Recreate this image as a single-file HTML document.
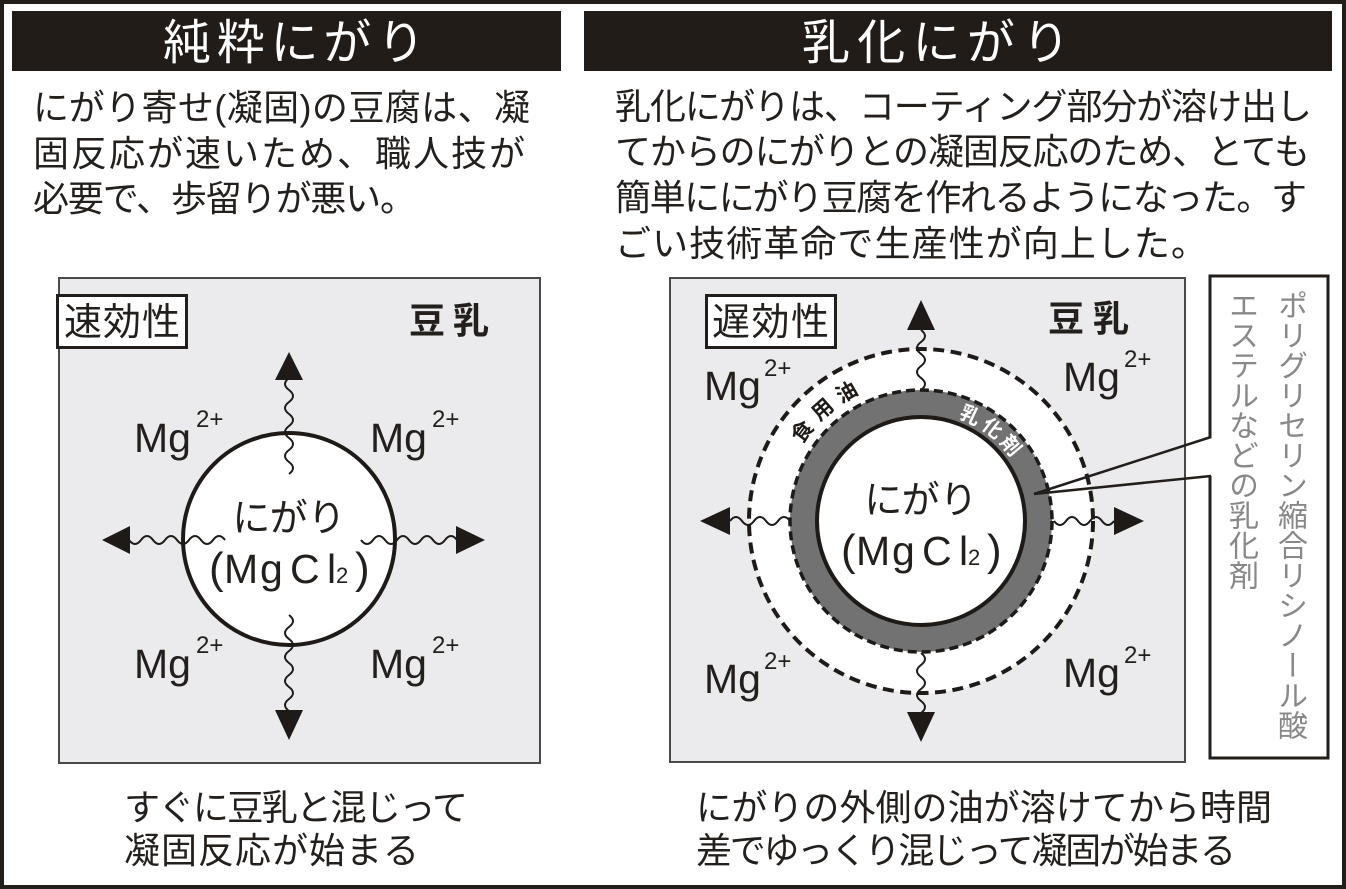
<!DOCTYPE html>
<html><head><meta charset="utf-8">
<style>
html,body{margin:0;padding:0;background:#fff;}
body{width:1346px;height:889px;overflow:hidden;position:relative;}
svg{position:absolute;left:0;top:0;}
.jp{font-family:"Liberation Sans","Noto Sans CJK JP",sans-serif;}
.vt{position:absolute;left:1219px;top:290px;width:98px;height:465px;writing-mode:vertical-rl;
font-family:"Noto Sans CJK JP",sans-serif;font-size:30px;letter-spacing:0px;line-height:49px;color:#888888;white-space:nowrap;}
</style></head>
<body>
<svg width="1346" height="889" viewBox="0 0 1346 889" xmlns="http://www.w3.org/2000/svg">
<rect x="2" y="2" width="1342" height="885" fill="#fff" stroke="#221e1b" stroke-width="4"/>
<!-- headers -->
<rect x="12" y="11" width="549" height="60" fill="#221c18"/>
<rect x="584" y="11" width="748" height="60" fill="#221c18"/>
<g class="jp" fill="#fff" font-size="48">
<text x="163" y="59" textLength="262" lengthAdjust="spacing">純粋にがり</text>
<text x="802" y="59" textLength="268" lengthAdjust="spacing">乳化にがり</text>
</g>
<!-- paragraphs -->
<g class="jp" fill="#231f1c" font-size="36">
<text x="33" y="120" textLength="497" lengthAdjust="spacing">にがり寄せ(凝固)の豆腐は、凝</text>
<text x="33" y="166" textLength="492" lengthAdjust="spacing">固反応が速いため、職人技が</text>
<text x="33" y="211" textLength="383" lengthAdjust="spacing">必要で、歩留りが悪い。</text>
<text x="615" y="119" textLength="697" lengthAdjust="spacing">乳化にがりは、コーティング部分が溶け出し</text>
<text x="615" y="164" textLength="695" lengthAdjust="spacing">てからのにがりとの凝固反応のため、とても</text>
<text x="615" y="210" textLength="692" lengthAdjust="spacing">簡単ににがり豆腐を作れるようになった。す</text>
<text x="615" y="256" textLength="592" lengthAdjust="spacing">ごい技術革命で生産性が向上した。</text>
<text x="124" y="820" textLength="344" lengthAdjust="spacing">すぐに豆乳と混じって</text>
<text x="124" y="863" textLength="295" lengthAdjust="spacing">凝固反応が始まる</text>
<text x="696" y="820" textLength="576" lengthAdjust="spacing">にがりの外側の油が溶けてから時間</text>
<text x="696" y="863" textLength="540" lengthAdjust="spacing">差でゆっくり混じって凝固が始まる</text>
</g>

<!-- LEFT DIAGRAM -->
<rect x="59" y="278" width="481" height="485" fill="#ebebed" stroke="#4a4a4a" stroke-width="2"/>
<rect x="57.5" y="295.5" width="129" height="52" fill="#fff" stroke="#221e1b" stroke-width="3"/>
<g class="jp" fill="#231f1c">
<text x="64" y="335" font-size="38" textLength="116" lengthAdjust="spacing">速効性</text>
<text x="409" y="333" font-size="36" font-weight="bold" textLength="80" lengthAdjust="spacing">豆乳</text>
</g>
<circle cx="289" cy="539" r="106" fill="#fff" stroke="#1e1a17" stroke-width="4"/>
<g fill="none" stroke="#1e1a17" stroke-width="2">
<path d="M289 474 q8 -6 0 -12 t0 -12 t0 -12 t0 -12 t0 -12 t0 -12 t0 -12 t0 -12"/>
<path d="M289 615 q8 6 0 12 t0 12 t0 12 t0 12 t0 12 t0 12 t0 12 t0 12"/>
<path d="M225 540 q-6 -8 -12 0 t-12 0 t-12 0 t-12 0 t-12 0 t-12 0 t-12 0 t-12 0"/>
<path d="M361 540 q6 8 12 0 t12 0 t12 0 t12 0 t12 0 t12 0 t12 0 t12 0"/>
</g>
<g fill="#1e1a17">
<polygon points="289,352 275,380 303,380"/>
<polygon points="289,740 275,710 303,710"/>
<polygon points="102,540 130,526 130,554"/>
<polygon points="485,540 456,526 456,554"/>
</g>
<g class="jp" fill="#231f1c">
<text x="289" y="531" font-size="38" text-anchor="middle">にがり</text>
<text y="583" font-size="41"><tspan x="209" font-size="44">(</tspan><tspan x="224">M</tspan><tspan x="260">g</tspan><tspan x="290">C</tspan><tspan x="327">l</tspan><tspan x="336" font-size="22">2</tspan><tspan x="355" font-size="44">)</tspan></text>
</g>
<g font-family="Liberation Sans, sans-serif" fill="#231f1c">
<text x="134" y="452" font-size="41">Mg</text><text x="196" y="427" font-size="24">2+</text>
<text x="370" y="452" font-size="41">Mg</text><text x="432" y="427" font-size="24">2+</text>
<text x="134" y="678" font-size="41">Mg</text><text x="196" y="653" font-size="24">2+</text>
<text x="370" y="678" font-size="41">Mg</text><text x="432" y="653" font-size="24">2+</text>
</g>

<!-- RIGHT DIAGRAM -->
<rect x="670" y="278" width="515" height="484" fill="#ebebed" stroke="#4a4a4a" stroke-width="2"/>
<rect x="706.5" y="295.5" width="129" height="52" fill="#fff" stroke="#221e1b" stroke-width="3"/>
<g class="jp" fill="#231f1c">
<text x="712" y="335" font-size="38" textLength="117" lengthAdjust="spacing">遅効性</text>
<text x="1048" y="331" font-size="36" font-weight="bold" textLength="81" lengthAdjust="spacing">豆乳</text>
</g>
<circle cx="921" cy="521" r="172" fill="#fff"/>
<circle cx="921" cy="521" r="172" fill="none" stroke="#1e1a17" stroke-width="4" stroke-dasharray="11 6.5"/>
<circle cx="921" cy="521" r="117.5" fill="none" stroke="#727272" stroke-width="27"/>
<circle cx="921" cy="521" r="131" fill="none" stroke="#1e1a17" stroke-width="3.5" stroke-dasharray="9 5"/>
<circle cx="921" cy="521" r="104" fill="#fff" stroke="#1e1a17" stroke-width="4"/>
<g fill="none" stroke="#1e1a17" stroke-width="2">
<path d="M921 390 q8 -6 0 -12 t0 -12 t0 -12 t0 -12 t0 -12"/>
<path d="M921 653 q8 6 0 12 t0 12 t0 12 t0 12 t0 12"/>
<path d="M790 521 q-6 -8 -12 0 t-12 0 t-12 0 t-12 0 t-12 0"/>
<path d="M1054 521 q6 8 12 0 t12 0 t12 0 t12 0 t12 0"/>
</g>
<g fill="#1e1a17">
<polygon points="921,300 907,330 935,330"/>
<polygon points="921,742 907,712 935,712"/>
<polygon points="700,521 730,507 730,535"/>
<polygon points="1144,521 1114,507 1114,535"/>
</g>
<g class="jp" font-weight="bold" font-size="21" text-anchor="middle" dominant-baseline="central" fill="#1e1a17">
<text transform="translate(803,432) rotate(-53)">食</text>
<text transform="translate(823,410) rotate(-41.5)">用</text>
<text transform="translate(847,393) rotate(-30)">油</text>
</g>
<g class="jp" font-weight="bold" font-size="20" text-anchor="middle" dominant-baseline="central" fill="#fff">
<text transform="translate(970,416) rotate(25)">乳</text>
<text transform="translate(992,429) rotate(37.5)">化</text>
<text transform="translate(1010,446) rotate(50)">剤</text>
</g>
<g class="jp" fill="#231f1c">
<text x="921" y="513" font-size="38" text-anchor="middle">にがり</text>
<text y="565" font-size="41"><tspan x="841" font-size="44">(</tspan><tspan x="856">M</tspan><tspan x="892">g</tspan><tspan x="922">C</tspan><tspan x="959">l</tspan><tspan x="968" font-size="22">2</tspan><tspan x="987" font-size="44">)</tspan></text>
</g>
<g font-family="Liberation Sans, sans-serif" fill="#231f1c">
<text x="704" y="400" font-size="41">Mg</text><text x="764" y="376" font-size="24">2+</text>
<text x="1063" y="391" font-size="41">Mg</text><text x="1124" y="367" font-size="24">2+</text>
<text x="704" y="693" font-size="41">Mg</text><text x="764" y="669" font-size="24">2+</text>
<text x="1063" y="687" font-size="41">Mg</text><text x="1124" y="663" font-size="24">2+</text>
</g>

<!-- callout -->
<rect x="1210" y="276" width="118" height="482" fill="#fff" stroke="#221e1b" stroke-width="3"/>
<rect x="1207" y="438" width="6" height="38" fill="#fff"/>
<g stroke="#221e1b" stroke-width="2.5" fill="none">
<line x1="1034" y1="494" x2="1211" y2="437"/>
<line x1="1034" y1="494" x2="1211" y2="476"/>
</g>
</svg>
<div class="vt">ポリグリセリン縮合リシノール酸<br>エステルなどの乳化剤</div>
</body></html>
